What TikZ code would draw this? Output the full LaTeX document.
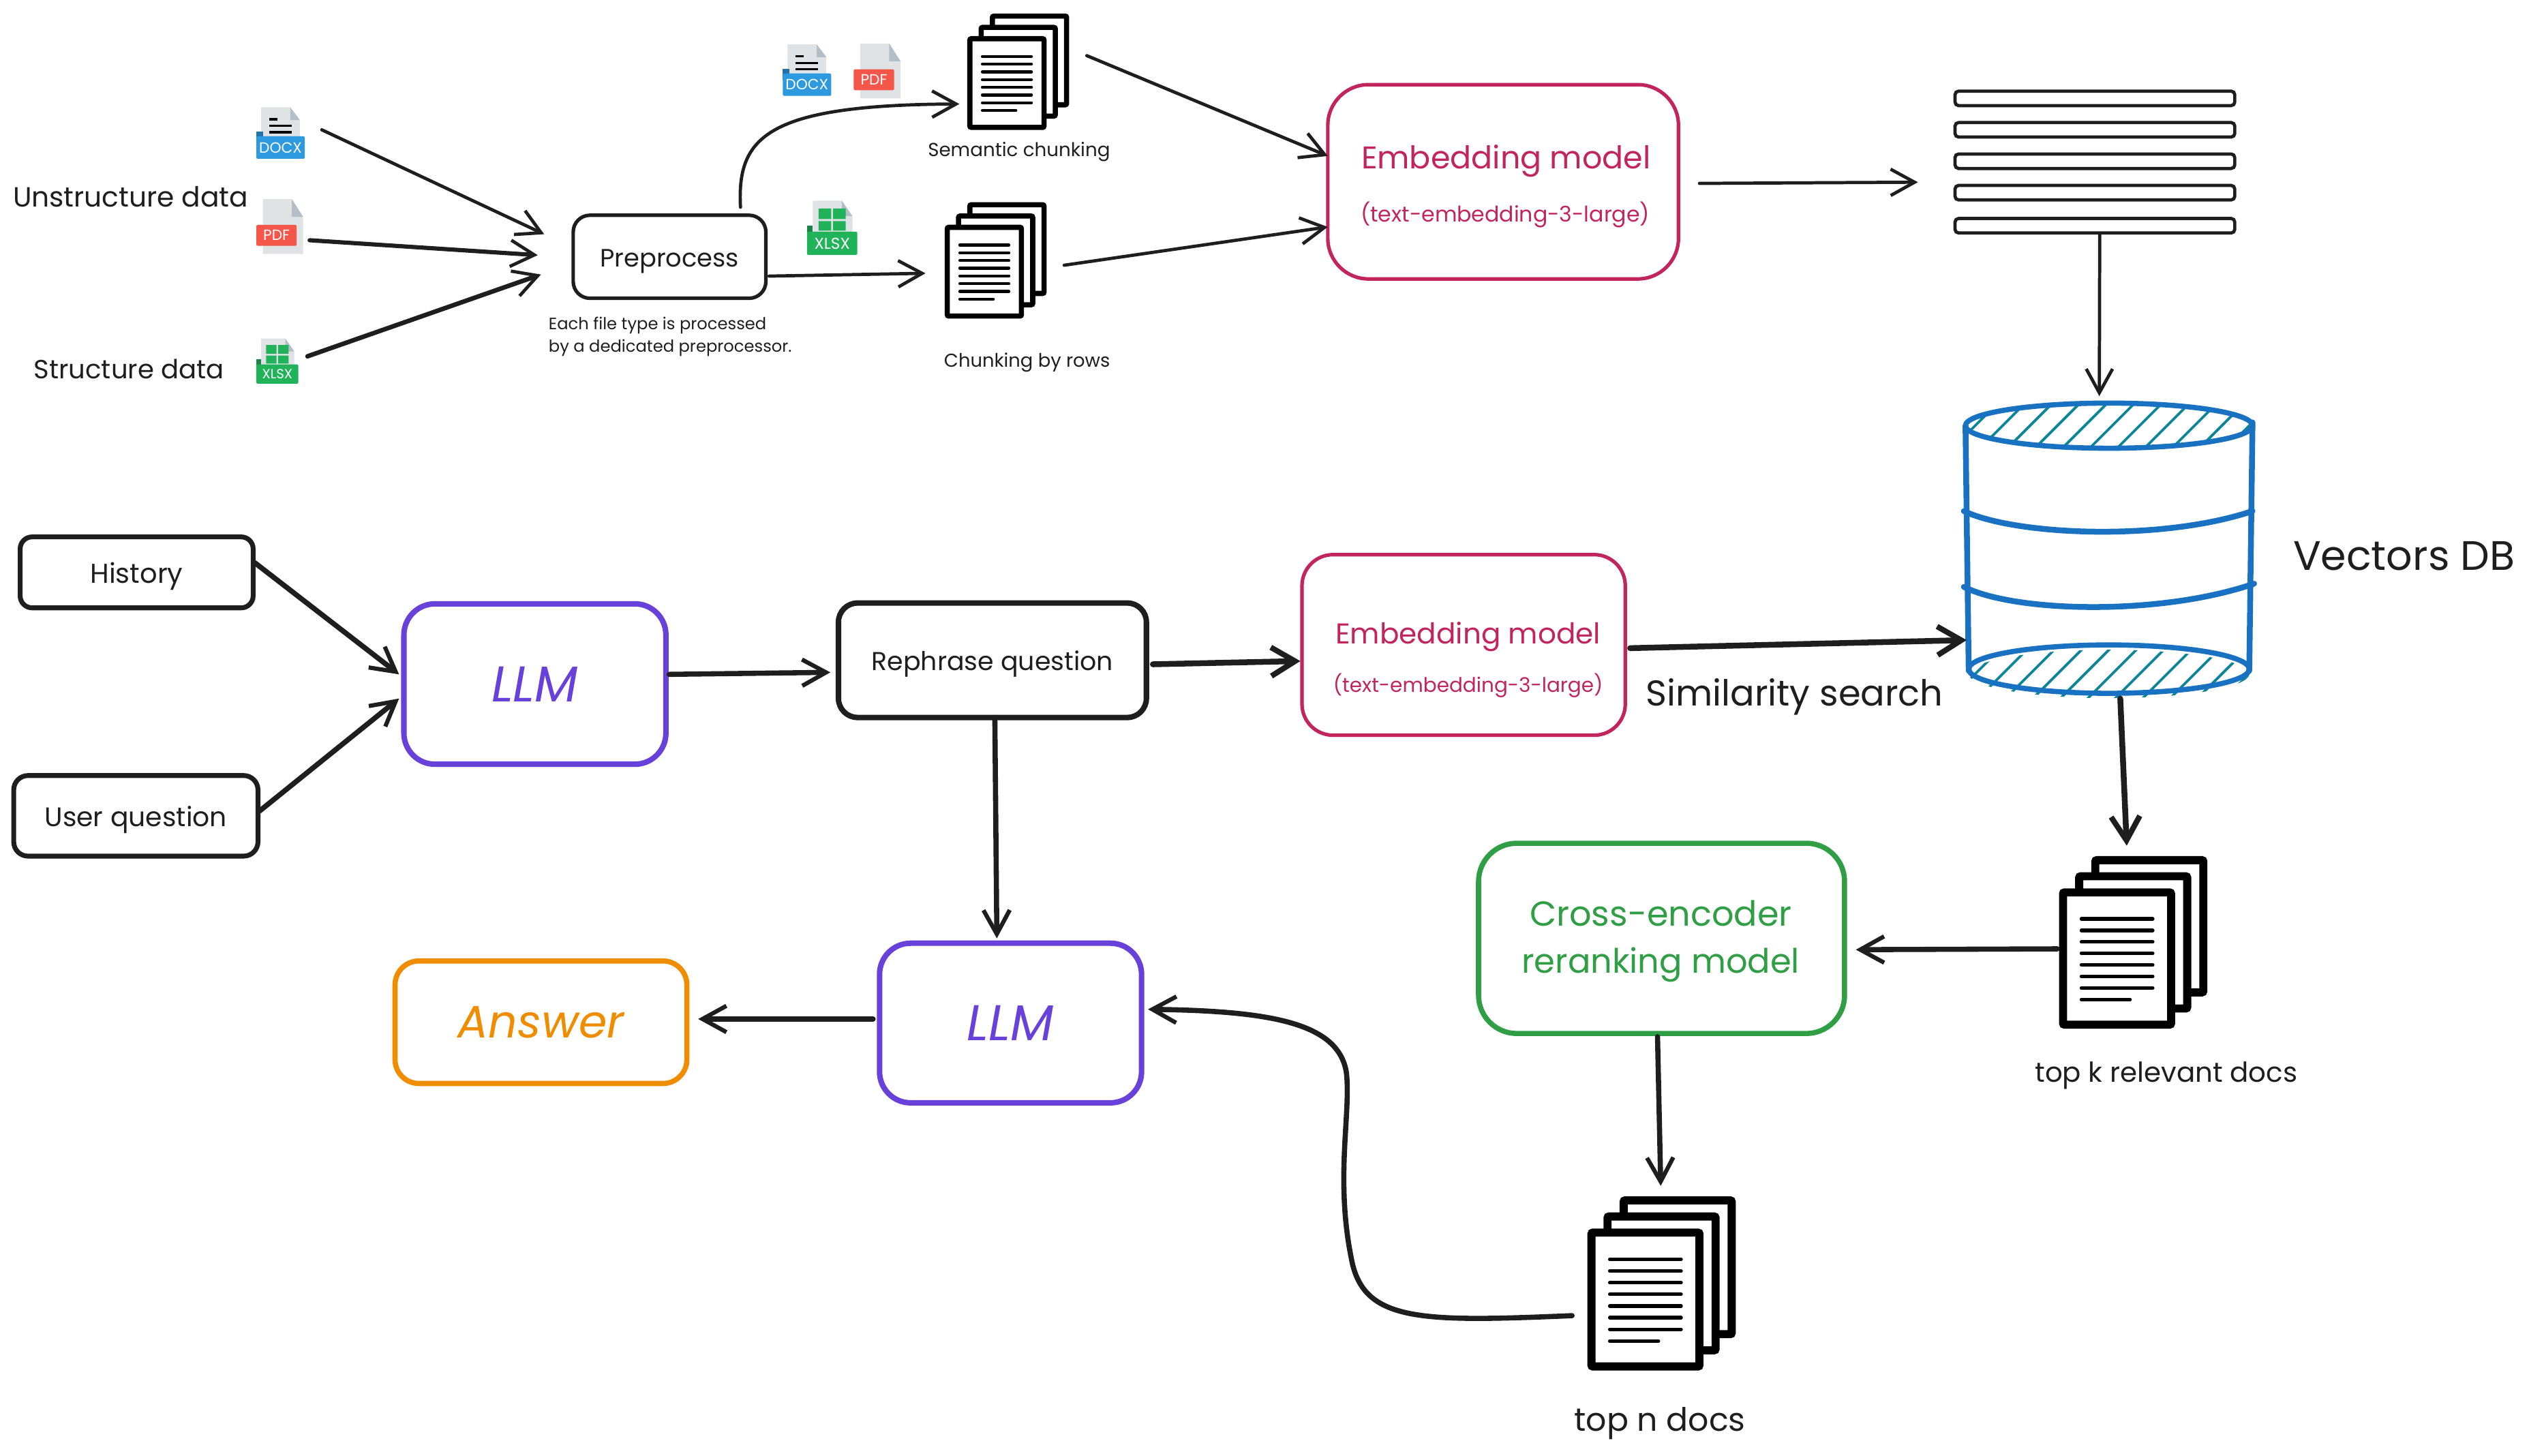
\documentclass[tikz,border=0pt]{standalone}
\usepackage{fontspec}
\setmainfont{Poppins}
\usetikzlibrary{arrows.meta,calc}
\definecolor{ink}{HTML}{1E1E1E}
\definecolor{crim}{HTML}{C2255C}
\definecolor{viol}{HTML}{6741D9}
\definecolor{grn}{HTML}{2F9E44}
\definecolor{org}{HTML}{F08C00}
\definecolor{blu}{HTML}{1971C2}
\definecolor{teal2}{HTML}{0C8599}
\definecolor{pg}{HTML}{DFE3E6}
\definecolor{pgd}{HTML}{B4BEC6}
\definecolor{dx}{HTML}{2D9AE0}
\definecolor{pd}{HTML}{F4574A}
\definecolor{xl}{HTML}{21B35A}
\def\uu{0.6741pt}
\newcommand\fs[1]{\fontsize{#1}{#1}\selectfont}
\newcommand\dn[1]{\raisebox{-1.4pt}[0.75em][0.2em]{#1}}
\newcommand\bx[7]{%
  \pgfmathsetmacro\cxx{(#2+#4)/2}\pgfmathsetmacro\cyy{(#3+#5)/2}%
  \node[#6,minimum width={(#4-#2)*\uu},minimum height={(#5-#3)*\uu}] (#1) at (\cxx,\cyy) {#7};}
% document stack: name, left, top, front w, front h, offset, border, line width
\newcommand\docstack[8]{%
  \begin{scope}[shift={(#2,#3)}]
    \pgfmathsetmacro\oo{#6}\pgfmathsetmacro\ww{#4}\pgfmathsetmacro\hh{#5}
    \draw[line width=#7*\uu,fill=white,rounded corners=0.6pt] (2*\oo,0) rectangle (2*\oo+\ww,\hh);
    \draw[line width=#7*\uu,fill=white,rounded corners=0.6pt] (\oo,\oo) rectangle (\oo+\ww,\oo+\hh);
    \draw[line width=#7*\uu,fill=white,rounded corners=0.6pt] (0,2*\oo) rectangle (\ww,2*\oo+\hh);
    \coordinate (#1) at (0,2*\oo+0.5*\hh);
    \foreach \f in {0,1,...,6}{
      \draw[line width=#8*\uu,line cap=round] (0.17*\ww,2*\oo+0.2*\hh+\f*0.0871*\hh) -- (0.83*\ww,2*\oo+0.2*\hh+\f*0.0871*\hh);}
    \draw[line width=#8*\uu,line cap=round] (0.17*\ww,2*\oo+0.81*\hh) -- (0.62*\ww,2*\oo+0.81*\hh);
  \end{scope}}
% icons: name, left, top, scale, label size
\newcommand\icondocx[5]{%
  \begin{scope}[shift={(#2,#3)},scale=#4]
    \fill[pg] (3,0) -- (21,0) -- (27,8) -- (27,18) -- (3,18) -- cycle;
    \fill[pgd] (21,0) -- (27,8) -- (21,8) -- cycle;
    \draw[line width=0.9pt,black] (8,7.5) -- (13,7.5) (8,11.5) -- (22,11.5) (8,15.5) -- (22,15.5);
    \fill[dx!75!black] (0,15) rectangle (4,22);
    \fill[dx,rounded corners=0.6pt] (0,18) rectangle (30,32);
    \node[inner sep=0,text=white,font=\fs{#5}] (#1) at (15,25) {DOCX};
  \end{scope}}
\newcommand\iconpdf[5]{%
  \begin{scope}[shift={(#2,#3)},scale=#4]
    \fill[pg] (4,0) -- (22,0) -- (29,11) -- (29,34) -- (4,34) -- cycle;
    \fill[pgd] (22,0) -- (29,11) -- (22,11) -- cycle;
    \fill[pd,rounded corners=0.6pt] (0,16) rectangle (25,29);
    \node[inner sep=0,text=white,font=\fs{#5}] (#1) at (12.5,22.5) {PDF};
  \end{scope}}
\newcommand\iconxlsx[5]{%
  \begin{scope}[shift={(#2,#3)},scale=#4]
    \fill[pg] (3,0) -- (18,0) -- (23.5,8) -- (23.5,17) -- (3,17) -- cycle;
    \fill[pgd] (18,0) -- (23.5,8) -- (18,8) -- cycle;
    \fill[xl] (6,4) rectangle (12.5,9.5) (13.5,4) rectangle (20,9.5) (6,10.5) rectangle (12.5,15.5) (13.5,10.5) rectangle (20,15.5);
    \fill[xl!75!black] (0,13) rectangle (3,20);
    \fill[xl,rounded corners=0.6pt] (0,16) rectangle (26,28);
    \node[inner sep=0,text=white,font=\fs{#5}] (#1) at (13,22) {XLSX};
  \end{scope}}
\tikzset{
  lbl/.style={inner sep=0,text=ink},
  box/.style={draw,inner sep=0,outer sep=0,text=ink,align=center},
  thin arr/.style={draw=ink,line width=2*\uu,line cap=round,line join=round,-{Straight Barb[length=10pt,width=11pt,line width=2*\uu]}},
  mid arr/.style={draw=ink,line width=2.6*\uu,line cap=round,line join=round,-{Straight Barb[length=10pt,width=11pt,line width=2.6*\uu]}},
  bold arr/.style={draw=ink,line width=3.6*\uu,line cap=round,line join=round,-{Straight Barb[length=10pt,width=12pt,line width=3.4*\uu]}},
}
\begin{document}
\begin{tikzpicture}[x=\uu,y=-\uu]
\useasboundingbox (0,0) rectangle (1568.5,903);
% top row
\icondocx{docxa}{159}{66.5}{1}{6.2}
\iconpdf{pdfa}{159}{123.5}{1}{6.2}
\iconxlsx{xlsxa}{159}{210}{1}{5.6}
\icondocx{docxb}{485.5}{27.5}{1}{6.2}
\iconpdf{pdfb}{529.5}{27}{1}{6.2}
\iconxlsx{xlsxb}{500.5}{124.5}{1.2}{6.6}
\node[lbl,font=\fs{11.6}] (unst) at (81,122) {Unstructure data};
\node[lbl,font=\fs{11}] (stru) at (80,229) {Structure data};
\bx{prep}{355.5}{133.5}{475}{185}{box,line width=2.2*\uu,rounded corners=7pt,draw=ink,font=\fs{10.5}}{\dn{Preprocess}}
\node[lbl,font=\fs{6.9},anchor=west] (note1) at (340,202) {Each file type is processed};
\node[lbl,font=\fs{6.9},anchor=west] (note2) at (340,216) {by a dedicated preprocessor.};
\docstack{stka}{601.5}{10}{46}{55}{7}{3.2}{1.9}
\docstack{stkb}{587.5}{127}{46}{55}{7}{3.2}{1.9}
\node[lbl,font=\fs{7.9}] (sem) at (632,94) {Semantic chunking};
\node[lbl,font=\fs{7.8}] (crow) at (637,225) {Chunking by rows};
\bx{emba}{823.5}{52.5}{1041}{173}{box,draw=crim,line width=2.2*\uu,rounded corners=17pt}{}
\node[lbl,text=crim,font=\fs{13.1}] (embat) at (934,100) {Embedding model};
\node[lbl,text=crim,font=\fs{9}] (embas) at (933.5,133) {(text-embedding-3-large)};
% vector strips
\foreach \yy/\nm in {56.5/va,76/vb,95.5/vc,115/vd,135.5/ve}{
  \pgfmathsetmacro\ye{\yy+9}
  \bx{\nm}{1212.5}{\yy}{1386}{\ye}{box,draw=ink,line width=2*\uu,rounded corners=1.5pt}{}
}
% database
\begin{scope}
  \clip (1308,264) ellipse [x radius=89,y radius=14];
  \foreach \xx in {1190,1207,...,1400}{\draw[teal2,line width=1.6*\uu] (\xx,282) -- (\xx+32,250);}
\end{scope}
\begin{scope}
  \clip (1308,418) ellipse [x radius=87,y radius=15];
  \foreach \xx in {1190,1207,...,1400}{\draw[teal2,line width=1.6*\uu] (\xx,436) -- (\xx+34,402);}
\end{scope}
\draw[blu,line width=3.2*\uu] (1308,264) ellipse [x radius=89,y radius=14];
\draw[blu,line width=3.2*\uu] (1308,415) ellipse [x radius=87,y radius=15];
\draw[blu,line width=3.6*\uu,line cap=round] (1219,264) -- (1221,416) (1397,262) -- (1395,416);
\draw[blu,line width=3.6*\uu,line cap=round] (1218,317) .. controls (1250,332) and (1340,336) .. (1397,317);
\draw[blu,line width=3.6*\uu,line cap=round] (1218,364) .. controls (1250,380) and (1340,382) .. (1398,362);
\node[inner sep=0,minimum width=178*\uu,minimum height=182*\uu] (db) at (1308,340) {};
\node[lbl,font=\fs{17.2}] (vdb) at (1491,345) {Vectors DB};
% middle row
\bx{hist}{12.5}{333}{157}{377}{box,draw=ink,line width=3*\uu,rounded corners=5pt,font=\fs{11.4}}{\dn{History}}
\bx{user}{8.5}{481}{160}{531}{box,draw=ink,line width=3*\uu,rounded corners=6pt,font=\fs{11.2}}{\dn{User question}}
\bx{llma}{250.5}{374.5}{413}{474}{box,draw=viol,line width=3.4*\uu,rounded corners=13pt,text=viol,font=\fs{21}\itshape}{LLM}
\bx{reph}{520}{374}{711}{445}{box,draw=ink,line width=3.4*\uu,rounded corners=8pt,font=\fs{10.8}}{\dn{Rephrase question}}
\bx{embb}{807.5}{344}{1008}{456}{box,draw=crim,line width=2.2*\uu,rounded corners=13pt}{}
\node[lbl,text=crim,font=\fs{12}] (embbt) at (910.5,395) {Embedding model};
\node[lbl,text=crim,font=\fs{8.4}] (embbs) at (910.5,425) {(text-embedding-3-large)};
\node[lbl,font=\fs{15}] (sim) at (1113,432) {Similarity search};
\bx{llmb}{545.5}{585}{708}{684}{box,draw=viol,line width=3.4*\uu,rounded corners=13pt,text=viol,font=\fs{21}\itshape}{LLM}
\bx{answ}{245}{596}{426}{672}{box,draw=org,line width=3.2*\uu,rounded corners=10pt,text=org,font=\fs{19}\itshape}{Answer}
\bx{cross}{917}{523}{1144}{641}{box,draw=grn,line width=3.2*\uu,rounded corners=16pt}{}
\node[lbl,text=grn,font=\fs{14.5}] (crosst) at (1030,566.5) {Cross-encoder};
\node[lbl,text=grn,font=\fs{14.1}] (crossb) at (1030,598.5) {reranking model};
\docstack{stkc}{1279.5}{533.5}{67}{82}{10}{5}{2.2}
\docstack{stkd}{987}{744.5}{67}{83}{10}{5}{2.2}
\node[lbl,font=\fs{11.5}] (tk) at (1343.5,667) {top k relevant docs};
\node[lbl,font=\fs{13.5}] (tn) at (1029.5,883) {top n docs};
% connectors
\draw[thin arr] ($(docxa.east)+(12,-11)$) -- ($(prep.west)+(-18,-14)$);
\draw[thin arr,line width=2.6*\uu] ($(pdfa.east)+(12,3)$) -- ($(prep.west)+(-22,-1)$);
\draw[thin arr,line width=2.8*\uu] ($(xlsxa.east)+(9,-11)$) -- ($(prep.west)+(-20,11)$);
\draw[thin arr] ($(prep.north)+(44,-5)$) .. controls (457,85) and (475,65) .. ($(stka)+(-6.5,13)$);
\draw[thin arr] ($(prep.east)+(2,12)$) -- ($(stkb)+(-13.5,1)$);
\draw[thin arr] ($(stka)+(72.5,-17)$) -- ($(emba.west)+(0,-16)$);
\draw[thin arr] ($(stkb)+(72.5,-4)$) -- ($(emba.west)+(0,28)$);
\draw[thin arr] (emba.east) ++(13,1) -- ($(vc.west)+(-23,13)$);
\draw[thin arr] (ve.south) ++(3,1) -- ($(db.north)+(-6,-3)$);
\draw[mid arr,line width=3.2*\uu] (hist.east) ++(1,-6) -- ($(llma.west)+(-3,-6)$);
\draw[mid arr,line width=3.2*\uu] (user.east) ++(1,-3) -- ($(llma.west)+(-3,9)$);
\draw[mid arr,line width=3.2*\uu] (llma.east) ++(2,-6) -- ($(reph.west)+(-5,7.5)$);
\draw[bold arr] (reph.east) ++(4,2.5) -- ($(embb.west)+(-1,10)$);
\draw[bold arr] (embb.east) ++(3,2) -- ($(db.west)+(1,57)$);
\draw[mid arr,line width=3.2*\uu] (reph.south) ++(1.5,0) -- ($(llmb.north)+(-8.5,-3)$);
\draw[mid arr,line width=3.2*\uu] (llmb.west) ++(-4,-2.5) -- ($(answ.east)+(7,-2)$);
\draw[mid arr,line width=3.2*\uu] ($(stkc)+(-3.5,-6)$) -- ($(cross.east)+(7,7)$);
\draw[bold arr] ($(db.south)+(7,2)$) -- ($(stkc)+(39.5,-70)$);
\draw[mid arr,line width=3.2*\uu] (cross.south) ++(-2.5,2) -- ($(stkd)+(43,-70.5)$);
\draw[mid arr,line width=3.2*\uu] ($(stkd)+(-12,10)$) .. controls (880,820) and (845,820) .. (838,780) .. controls (828,730) and (838,690) .. (835,665) .. controls (830,635) and (790,627) .. ($(llmb.east)+(4,-8.5)$);
\end{tikzpicture}
\end{document}
